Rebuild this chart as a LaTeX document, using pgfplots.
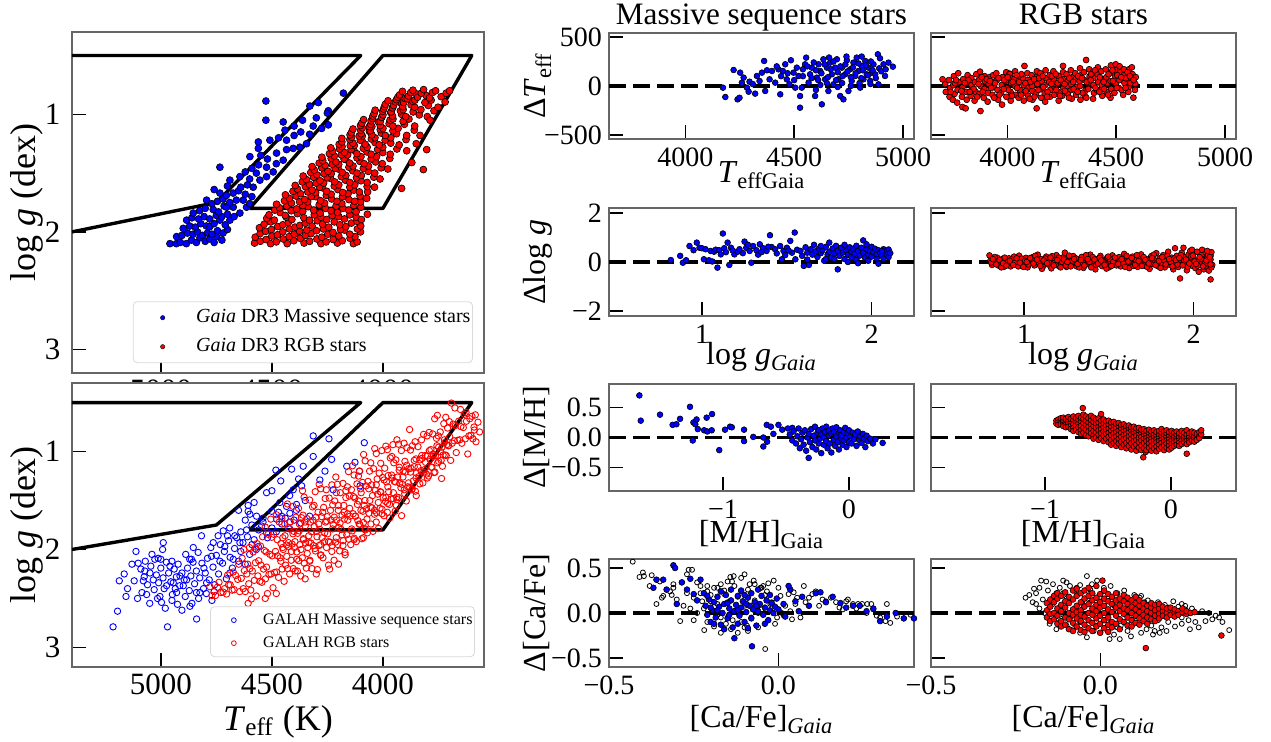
\documentclass[border=0pt]{standalone}
\usepackage{fontspec}
\setmainfont{Liberation Serif}
\usepackage{pgfplots}
\pgfplotsset{compat=1.18}
\definecolor{frm}{gray}{0.4}
\pgfplotsset{
  base/.style={scale only axis, anchor=north west,
    axis background/.style={fill=white},
    axis line style={draw=frm, line width=0.6pt},
    tick align=inside, tick pos=left, major tick length=7pt,
    every tick/.style={black, line width=0.7pt},
    scaled ticks=false, clip=true},
  lpanel/.style={base, width=206pt, x dir=reverse, y dir=reverse,
    xmin=3545, xmax=5400, ymin=0.3, ymax=3.2,
    xtick={4000,4500,5000}, xticklabels={4000,4500,5000},
    ytick={1,2,3}, yticklabels={1,2,3},
    tick label style={font=\fontsize{15.5}{18}\selectfont},
    yticklabel style={xshift=-2.3pt},
    ylabel={log \textit{g} (dex)},
    ylabel style={font=\fontsize{18}{21}\selectfont, at={(axis description cs:-0.109,0.5)}, anchor=center}},
  rpanel/.style={base, width=152.5pt,
    tick label style={font=\fontsize{14}{16}\selectfont},
    xticklabel style={yshift=-1pt},
    xlabel style={font=\fontsize{16}{19}\selectfont, at={(axis description cs:0.5,0)}, anchor=base},
    ylabel style={font=\fontsize{16}{19}\selectfont, at={(axis description cs:-0.2066,0.5)}, anchor=base},
    title style={font=\fontsize{15.6}{18}\selectfont, at={(axis description cs:0.5,1)}, anchor=base, yshift=-2pt}},
  bf/.style={only marks, mark=*, mark size=#1, mark options={fill=blue, draw=black, line width=0.3pt}, forget plot},
  rf/.style={only marks, mark=*, mark size=#1, mark options={fill=red, draw=black, line width=0.3pt}, forget plot},
  bo/.style={only marks, mark=o, mark size=1.6pt, mark options={draw=blue, line width=0.45pt}, forget plot},
  ro/.style={only marks, mark=o, mark size=1.6pt, mark options={draw=red, line width=0.45pt}, forget plot},
  ko/.style={only marks, mark=o, mark size=1.25pt, mark options={draw=black, line width=0.4pt}, forget plot},
  zl/.style={black, line width=1.6pt, dash pattern=on 8.5pt off 3.5pt, forget plot},
  bx/.style={black, line width=1.7pt, line join=round, forget plot},
}
\begin{document}
\begin{tikzpicture}
\useasboundingbox (0pt,0pt) rectangle (635.5pt,-371pt);
%================ LEFT TOP (Gaia) ================
\begin{axis}[lpanel, at={(36pt,-16pt)}, height=170.5pt,
  legend style={at={(0.973,0.029)}, anchor=south east, draw=gray!30, rounded corners=2pt,
   font=\fontsize{10}{12}\selectfont, inner xsep=0pt, inner ysep=2.5pt, row sep=3.5pt,
   cells={anchor=west}, nodes={inner sep=1pt, text height=7pt, text depth=2pt}},
  legend image code/.code={\path (0pt,0pt) (30pt,0pt); \draw[#1] plot coordinates {(14.5pt,0pt)};}]
\addplot[bf=1.75pt] coordinates {(4959,2.10)(4930,2.10)(4912,2.09)(4885,2.10)(4862,2.07)(4840,2.09)(4824,2.05)(4800,2.08)(4780,2.06)(4760,2.09)(4749,2.04)(4725,2.07)(4929,2.04)(4905,2.03)(4880,2.01)(4855,2.02)(4835,2.00)(4812,2.03)(4790,2.01)(4770,2.02)(4745,1.99)(4720,2.01)(4700,1.98)(4899,1.97)(4870,1.95)(4845,1.96)(4820,1.93)(4795,1.95)(4779,1.955)(4760,1.93)(4734,1.90)(4710,1.94)(4689,1.90)(4884,1.90)(4860,1.88)(4830,1.89)(4805,1.87)(4780,1.89)(4750,1.86)(4725,1.87)(4700,1.85)(4670,1.87)(4854,1.84)(4825,1.82)(4800,1.80)(4764,1.81)(4740,1.83)(4715,1.78)(4704,1.79)(4674,1.79)(4644,1.84)(4614,1.79)(4794,1.73)(4770,1.76)(4745,1.74)(4720,1.72)(4690,1.75)(4660,1.73)(4629,1.73)(4600,1.76)(4734,1.67)(4705,1.69)(4674,1.67)(4650,1.65)(4620,1.68)(4590,1.70)(4760,1.64)(4584,1.62)(4610,1.60)(4640,1.62)(4700,1.61)(4689,1.56)(4644,1.53)(4554,1.56)(4524,1.53)(4600,1.55)(4570,1.50)(4620,1.49)(4494,1.49)(4734,1.45)(4524,1.45)(4560,1.43)(4590,1.46)(4479,1.33)(4449,1.39)(4599,1.36)(4520,1.38)(4480,1.42)(4550,1.35)(4434,1.30)(4404,1.29)(4374,1.28)(4561,1.29)(4561,1.235)(4509,1.22)(4434,1.22)(4344,1.25)(4470,1.20)(4400,1.18)(4441,1.135)(4370,1.15)(4330,1.17)(4314,1.10)(4276,1.12)(4246,1.09)(4449,1.065)(4362,1.05)(4527,1.05)(4300,1.03)(4246,0.97)(4329,0.93)(4291,0.90)(4527,0.887)(4178,0.82)(4250,0.99)(4400,1.10)};
\addplot[rf=1.75pt] coordinates {
(4578,2.095)(4552,2.08)(4506,2.10)(4480,2.085)(4431,2.10)(4401,2.075)(4355,2.095)(4330,2.08)(4279,2.10)(4256,2.085)(4205,2.095)(4183,2.075)(4133,2.10)(4116,2.085)
(4575,2.045)(4526,2.065)(4500,2.035)(4449,2.06)(4422,2.04)(4372,2.055)(4349,2.03)(4297,2.06)(4275,2.045)(4224,2.065)(4199,2.035)(4148,2.055)(4126,2.04)
(4553,2.015)(4528,1.995)(4475,2.025)(4451,2.00)(4399,2.02)(4375,1.995)(4324,2.015)(4299,1.99)(4248,2.02)(4225,2.005)(4173,1.985)(4149,2.02)(4101,2.00)
(4556,1.965)(4502,1.98)(4474,1.955)(4421,1.975)(4396,1.96)(4343,1.985)(4319,1.95)(4268,1.975)(4244,1.96)(4191,1.98)(4167,1.955)(4115,1.975)(4100,1.95)
(4535,1.935)(4505,1.915)(4451,1.94)(4426,1.92)(4374,1.945)(4350,1.925)(4296,1.905)(4272,1.935)(4219,1.915)(4194,1.94)(4142,1.925)(4117,1.91)
(4523,1.885)(4489,1.90)(4435,1.875)(4410,1.895)(4356,1.88)(4331,1.90)(4279,1.875)(4253,1.895)(4199,1.87)(4173,1.89)(4120,1.875)(4097,1.895)
(4513,1.855)(4463,1.835)(4440,1.86)(4385,1.845)(4361,1.825)(4309,1.855)(4283,1.84)(4229,1.86)(4204,1.835)(4149,1.855)(4121,1.83)(4070,1.85)
(4487,1.815)(4465,1.795)(4413,1.82)(4389,1.805)(4337,1.785)(4312,1.815)(4259,1.80)(4234,1.82)(4180,1.80)(4154,1.815)(4099,1.79)
(4479,1.765)(4433,1.78)(4412,1.755)(4361,1.775)(4339,1.745)(4287,1.77)(4263,1.755)(4211,1.78)(4185,1.76)(4131,1.775)(4101,1.745)
(4443,1.735)(4421,1.715)(4375,1.745)(4353,1.725)(4303,1.70)(4281,1.735)(4231,1.72)(4207,1.74)(4153,1.725)(4127,1.74)(4073,1.715)
(4439,1.685)(4391,1.695)(4371,1.675)(4323,1.70)(4303,1.665)(4255,1.69)(4233,1.68)(4182,1.70)(4157,1.675)(4103,1.695)(4069,1.66)
(4405,1.655)(4385,1.635)(4338,1.66)(4319,1.645)(4272,1.625)(4253,1.655)(4203,1.64)(4181,1.665)(4131,1.645)(4106,1.66)(4038,1.62)
(4395,1.605)(4349,1.615)(4331,1.595)(4285,1.62)(4267,1.585)(4219,1.61)(4199,1.60)(4149,1.62)(4127,1.60)(4071,1.615)(3916,1.63)
(4363,1.575)(4345,1.555)(4301,1.585)(4283,1.565)(4236,1.545)(4217,1.575)(4169,1.56)(4149,1.58)(4099,1.565)(4071,1.58)(4013,1.55)
(4359,1.525)(4313,1.535)(4297,1.515)(4251,1.54)(4233,1.505)(4187,1.53)(4167,1.52)(4119,1.54)(4097,1.52)(4041,1.535)
(4325,1.495)(4309,1.475)(4265,1.505)(4247,1.485)(4201,1.465)(4183,1.495)(4136,1.48)(4117,1.50)(4066,1.485)(4037,1.50)(3978,1.465)(3818,1.47)
(4319,1.445)(4275,1.455)(4260,1.435)(4215,1.46)(4199,1.425)(4153,1.45)(4135,1.44)(4088,1.46)(4065,1.44)(4008,1.455)
(4287,1.415)(4271,1.395)(4228,1.425)(4212,1.405)(4168,1.385)(4150,1.415)(4104,1.40)(4085,1.42)(4033,1.405)(4003,1.42)(3870,1.41)
(4275,1.365)(4233,1.375)(4219,1.355)(4175,1.38)(4159,1.345)(4117,1.37)(4099,1.36)(4053,1.38)(4029,1.36)(3969,1.375)
(4241,1.335)(4227,1.315)(4187,1.345)(4173,1.325)(4131,1.305)(4117,1.335)(4072,1.32)(4053,1.34)(4001,1.325)(3967,1.34)(3893,1.31)(3803,1.30)
(4235,1.285)(4195,1.295)(4184,1.275)(4143,1.30)(4129,1.265)(4088,1.29)(4071,1.28)(4024,1.30)(4001,1.28)(3937,1.295)
(4197,1.255)(4185,1.235)(4147,1.265)(4135,1.245)(4094,1.225)(4080,1.255)(4036,1.24)(4017,1.26)(3965,1.245)(3927,1.26)(3850,1.25)
(4185,1.205)(4149,1.215)(4141,1.195)(4102,1.22)(4093,1.185)(4052,1.21)(4036,1.20)(3990,1.22)(3965,1.20)(3896,1.215)
(4148,1.175)(4142,1.155)(4107,1.185)(4098,1.165)(4061,1.145)(4050,1.175)(4007,1.16)(3989,1.18)(3939,1.165)(3893,1.18)(3833,1.18)
(4135,1.125)(4100,1.135)(4093,1.115)(4057,1.14)(4050,1.105)(4012,1.13)(4000,1.12)(3955,1.14)(3932,1.12)(3859,1.135)
(4101,1.095)(4095,1.075)(4061,1.105)(4055,1.085)(4020,1.065)(4012,1.095)(3972,1.08)(3955,1.10)(3903,1.085)(3857,1.10)
(4087,1.045)(4053,1.055)(4047,1.035)(4012,1.06)(4005,1.025)(3968,1.05)(3955,1.04)(3909,1.06)(3883,1.04)(3800,1.02)(3788,1.05)
(4045,1.015)(4040,0.995)(4006,1.025)(4000,1.005)(3965,0.985)(3957,1.015)(3916,1.00)(3897,1.02)(3836,1.005)
(4035,0.965)(4001,0.975)(3997,0.955)(3963,0.98)(3957,0.945)(3921,0.97)(3909,0.96)(3864,0.98)(3829,0.96)(3770,0.97)
(3993,0.935)(3989,0.915)(3957,0.945)(3952,0.925)(3918,0.905)(3911,0.935)(3873,0.92)(3857,0.94)(3796,0.925)(3752,0.94)
(3977,0.885)(3944,0.895)(3939,0.875)(3906,0.90)(3900,0.865)(3865,0.89)(3856,0.88)(3811,0.90)(3783,0.88)(3720,0.895)
(3933,0.855)(3925,0.835)(3891,0.865)(3885,0.845)(3851,0.825)(3844,0.855)(3806,0.84)(3790,0.86)(3738,0.85)
(3912,0.805)(3875,0.815)(3865,0.795)(3827,0.82)(3817,0.79)(3777,0.815)(3763,0.80)(3715,0.82)(3700,0.80)};
\addplot[bx] coordinates {(5400,2.0) (4750,1.75) (4100,0.5) (5400,0.5)};
\addplot[bx] coordinates {(4600,1.8) (4000,1.8) (3600,0.5) (4000,0.5) (4600,1.8)};
\addlegendimage{only marks, mark=*, mark size=1.1pt, mark options={fill=blue, draw=black, line width=0.2pt}}
\addlegendentry{\textit{Gaia} DR3 Massive sequence stars}
\addlegendimage{only marks, mark=*, mark size=1.1pt, mark options={fill=red, draw=black, line width=0.2pt}}
\addlegendentry{\textit{Gaia} DR3 RGB stars}
\end{axis}
%================ LEFT BOTTOM (GALAH) ================
\begin{axis}[lpanel, at={(36pt,-191.5pt)}, height=142pt,
  xlabel={\textit{T}\textsubscript{eff} (K)},
  xlabel style={font=\fontsize{18}{21}\selectfont, at={(axis description cs:0.5,0)}, anchor=base, yshift=-31.5pt},
  legend style={at={(0.978,0.035)}, anchor=south east, draw=gray!30, rounded corners=2pt,
   font=\fontsize{8}{10}\selectfont, inner xsep=0pt, inner ysep=2.15pt, row sep=2.3pt,
   cells={anchor=west}, nodes={inner sep=1pt, text height=5.6pt, text depth=1.6pt}},
  legend image code/.code={\path (0pt,0pt) (25pt,0pt); \draw[#1] plot coordinates {(11.5pt,0pt)};}]
\addplot[bo] coordinates {(5215,2.79)(5195,2.63)(5187,2.32)(5157,2.48)(5112,2.02)(5102,2.14)(5079,2.32)(5072,2.22)(5064,2.46)(5049,2.24)(5034,2.31)(5027,2.10)(5012,2.09)(5004,2.48)(4997,2.54)(4992,2.00)(4989,1.93)(4970,2.79)(4974,2.37)(4959,2.17)(4944,2.34)(4929,2.44)(4914,2.27)(4899,2.37)(4884,2.31)(4869,2.58)(4862,2.10)(4854,1.98)(4839,2.71)(4824,2.44)(4817,1.86)(4806,2.19)(4794,2.34)(4772,2.07)(4764,1.93)(4742,1.86)(4734,2.12)(4719,1.81)(4712,1.97)(4689,2.24)(4674,2.10)(4667,1.86)(4644,1.93)(4614,1.80)(4607,1.55)(4607,1.61)(4599,1.64)(4569,1.66)(4561,1.97)(4546,1.76)(4524,1.42)(4524,1.83)(4501,1.61)(4482,1.19)(4479,1.69)(4464,1.52)(4456,1.66)(4434,1.56)(4419,1.63)(4411,1.18)(4404,1.39)(4389,1.54)(4366,1.35)(4359,1.15)(4314,0.84)(4314,1.05)(4284,1.29)(4261,1.20)(4243,0.87)(4231,1.08)(4224,1.39)(4163,1.15)(4126,1.11)(4106,1.20)(4084,0.91)(4103,1.35)
(5090,2.20)(5075,2.28)(5060,2.36)(5045,2.17)(5030,2.41)(5020,2.26)(5010,2.34)(5000,2.19)(4990,2.29)(4985,2.40)(4975,2.13)(4965,2.24)(4955,2.33)(4948,2.46)(4940,2.20)(4930,2.28)(4922,2.15)(4915,2.37)(4905,2.24)(4895,2.31)(4888,2.05)(4880,2.19)(4872,2.42)(4865,2.27)(4855,2.13)(4848,2.35)(4840,2.22)(4832,2.03)(4825,2.29)(4815,2.14)(4808,2.40)(4800,2.24)(4790,2.09)(4782,2.31)(4775,1.98)(4765,2.18)(4758,2.36)(4750,2.06)(4740,2.25)(4732,1.95)(4722,2.14)(4714,2.02)(4705,2.30)(4695,1.91)(4688,2.08)(4678,2.19)(4668,1.99)(4658,1.88)(4650,2.12)(4640,2.02)(4630,1.93)(4620,2.15)(4610,1.87)(4600,2.05)(4590,1.95)(4580,1.90)(4570,2.00)
(5150,2.40)(5120,2.32)(5105,2.50)(5085,2.44)(5050,2.55)(5015,2.50)(4980,2.60)(4950,2.52)(4925,2.56)(4890,2.48)(4860,2.55)(4830,2.50)(4795,2.45)(4770,2.52)(4905,2.62)(4950,2.12)(5040,2.05)(5070,2.12)(5130,2.15)(5165,2.25)(5000,2.10)(4935,2.40)(4870,2.10)(4840,2.44)(4760,2.43)
(4560,1.80)(4540,1.72)(4520,1.88)(4500,1.78)(4480,1.82)(4470,1.62)(4455,1.74)(4440,1.68)(4420,1.79)(4400,1.70)(4390,1.60)(4370,1.73)(4350,1.50)(4330,1.66)(4540,1.68)(4590,1.75)(4640,1.82)(4620,1.70)(4690,1.78)(4700,1.86)(4580,1.52)(4650,1.60)(4500,1.40)(4420,1.45)(4460,1.30)(4380,1.28)};
\addplot[ro] coordinates {(4770,2.47)(4779,2.38)(4745,2.385)(4754,2.47)(4738,2.335)(4720,2.435)(4729,2.44)(4713,2.40)(4695,2.36)(4704,2.455)(4688,2.36)(4699,2.26)(4670,2.41)(4679,2.415)(4663,2.265)(4674,2.23)(4645,2.43)(4654,2.305)(4638,2.295)(4649,2.15)(4634,2.09)(4620,2.43)(4629,2.40)(4613,2.25)(4624,2.215)(4609,2.15)(4626,2.00)(4595,2.415)(4604,2.35)(4588,2.22)(4599,2.195)(4584,2.025)(4601,1.98)(4592,2.505)(4570,2.475)(4579,2.315)(4563,2.27)(4574,2.135)(4559,2.115)(4576,1.99)(4567,1.94)(4545,2.335)(4554,2.325)(4538,2.20)(4549,2.16)(4534,2.01)(4551,1.965)(4542,1.87)(4520,2.45)(4529,2.30)(4513,2.255)(4524,2.18)(4509,2.05)(4526,2.025)(4517,1.845)(4530,1.77)(4495,2.39)(4504,2.25)(4488,2.235)(4499,2.065)(4484,2.02)(4501,1.875)(4492,1.845)(4505,1.69)(4470,2.285)(4479,2.23)(4463,2.085)(4474,2.065)(4459,1.94)(4476,1.90)(4467,1.72)(4480,1.645)(4445,2.325)(4454,2.20)(4438,2.16)(4449,2.00)(4434,1.955)(4451,1.88)(4442,1.74)(4455,1.685)(4420,2.25)(4429,2.195)(4413,2.11)(4424,1.97)(4409,1.945)(4426,1.775)(4417,1.72)(4430,1.535)(4395,2.22)(4404,2.195)(4388,2.025)(4399,1.98)(4384,1.835)(4401,1.815)(4392,1.67)(4405,1.56)(4370,2.27)(4379,2.115)(4363,2.085)(4374,1.95)(4359,1.90)(4376,1.74)(4367,1.675)(4380,1.58)(4362,1.40)(4345,2.19)(4354,2.14)(4338,1.98)(4349,1.935)(4334,1.86)(4351,1.72)(4342,1.685)(4355,1.465)(4320,2.195)(4329,2.11)(4313,1.96)(4324,1.935)(4309,1.765)(4326,1.72)(4317,1.565)(4330,1.495)(4295,2.205)(4304,2.015)(4288,1.96)(4299,1.815)(4284,1.795)(4301,1.67)(4292,1.62)(4305,1.41)(4287,1.335)(4270,2.085)(4279,2.055)(4263,1.92)(4274,1.88)(4259,1.72)(4276,1.665)(4267,1.57)(4280,1.38)(4245,2.16)(4254,1.98)(4238,1.925)(4249,1.84)(4234,1.70)(4251,1.665)(4242,1.475)(4255,1.39)(4220,2.11)(4229,1.96)(4213,1.925)(4224,1.745)(4209,1.70)(4226,1.545)(4217,1.505)(4230,1.34)(4212,1.26)(4195,2.015)(4204,1.95)(4188,1.795)(4199,1.775)(4184,1.65)(4201,1.60)(4192,1.42)(4205,1.335)(4170,2.055)(4179,1.91)(4163,1.85)(4174,1.69)(4159,1.635)(4176,1.55)(4167,1.40)(4180,1.325)(4145,1.95)(4154,1.895)(4138,1.81)(4149,1.66)(4134,1.635)(4151,1.455)(4142,1.39)(4155,1.205)(4137,1.145)(4120,1.92)(4129,1.885)(4113,1.705)(4124,1.66)(4109,1.505)(4126,1.475)(4117,1.33)(4130,1.24)(4095,1.89)(4104,1.745)(4088,1.725)(4099,1.60)(4084,1.55)(4101,1.38)(4092,1.315)(4105,1.20)(4087,1.03)(4070,1.83)(4079,1.79)(4063,1.63)(4074,1.585)(4059,1.50)(4076,1.35)(4067,1.305)(4080,1.095)(4045,1.815)(4054,1.74)(4038,1.60)(4049,1.575)(4034,1.395)(4051,1.34)(4042,1.175)(4055,1.115)(4037,0.97)(4020,1.785)(4029,1.625)(4013,1.58)(4024,1.435)(4009,1.415)(4026,1.28)(4017,1.22)(4030,1.02)(3995,1.655)(4004,1.635)(3988,1.51)(3999,1.47)(3984,1.31)(4001,1.265)(3992,1.17)(4005,0.99)(3987,0.945)(3970,1.68)(3979,1.53)(3963,1.485)(3974,1.41)(3959,1.27)(3976,1.245)(3967,1.065)(3980,0.98)(3945,1.61)(3954,1.48)(3938,1.465)(3949,1.305)(3934,1.26)(3951,1.115)(3942,1.085)(3955,0.93)(3937,0.88)(3916,1.655)(3929,1.47)(3913,1.335)(3924,1.325)(3909,1.20)(3926,1.16)(3917,0.99)(3930,0.925)(3895,1.505)(3904,1.39)(3888,1.36)(3899,1.21)(3884,1.175)(3901,1.10)(3892,0.96)(3905,0.915)(3870,1.39)(3879,1.365)(3863,1.30)(3874,1.17)(3859,1.155)(3876,0.985)(3867,0.94)(3880,0.775)(3850,1.45)(3854,1.405)(3838,1.255)(3849,1.22)(3834,1.085)(3851,1.075)(3842,0.95)(3855,0.90)(3820,1.32)(3829,1.195)(3813,1.185)(3824,1.07)(3809,1.04)(3826,0.88)(3817,0.825)(3795,1.25)(3804,1.23)(3788,1.08)(3799,1.045)(3784,0.98)(3801,0.84)(3792,0.805)(3770,1.215)(3779,1.16)(3763,1.04)(3774,1.025)(3759,0.865)(3776,0.82)(3767,0.665)(3736,1.275)(3754,1.115)(3738,1.09)(3749,0.955)(3734,0.955)(3751,0.84)(3742,0.80)(3755,0.63)(3720,1.035)(3729,1.035)(3713,0.93)(3724,0.91)(3709,0.76)(3726,0.715)(3717,0.65)(3695,1.09)(3704,0.94)(3688,0.915)(3699,0.85)(3684,0.72)(3701,0.695)(3692,0.505)(3670,1.01)(3679,0.89)(3663,0.885)(3674,0.735)(3659,0.69)(3676,0.555)(3645,0.915)(3654,0.88)(3638,0.755)(3649,0.745)(3634,0.62)(3651,0.57)(3618,1.025)(3629,0.87)(3613,0.84)(3624,0.69)(3609,0.665)(3626,0.60)(3595,0.87)(3604,0.835)(3588,0.78)(3599,0.64)(3584,0.625)(3581,0.90)(3565,0.80)(3572,0.70)(3590,0.75)(4607,2.55)(4171,2.03)(4088,1.88)(4240,2.20)(4530,2.50)(4480,2.45)(4350,2.30)(4300,2.25)(4200,2.15)
(4460,2.12)(4452,1.98)(4441,1.86)(4433,2.07)(4425,1.93)(4412,2.02)(4405,1.84)(4396,1.92)(4388,2.10)(4377,1.81)(4369,2.00)(4358,1.89)(4350,1.76)(4341,2.04)(4333,1.93)(4322,1.82)(4315,1.70)(4306,1.99)(4297,1.87)(4289,1.74)(4280,1.95)(4271,1.62)(4262,1.83)(4253,1.71)(4245,1.92)(4236,1.60)(4227,1.79)(4219,1.67)(4210,1.88)(4201,1.55)(4193,1.73)(4184,1.85)(4175,1.62)(4167,1.47)(4158,1.70)(4150,1.58)(4141,1.79)(4132,1.46)(4124,1.66)(4115,1.54)(4107,1.74)(4098,1.42)(4090,1.61)(4081,1.50)(4072,1.69)(4064,1.38)(4055,1.57)(4047,1.45)(4038,1.64)(4030,1.34)(4021,1.52)(4012,1.41)(4004,1.59)(3995,1.29)(3987,1.47)(3978,1.36)(3970,1.54)(3961,1.24)(3953,1.42)(3944,1.31)(3936,1.49)(3927,1.19)(3919,1.37)(3910,1.26)(3902,1.43)(3893,1.14)(3885,1.32)(3876,1.21)(3868,1.38)(3859,1.09)(3851,1.27)(3842,1.16)(3834,1.33)(3825,1.04)(3817,1.21)(3808,1.11)(3800,1.27)(3791,0.99)(3783,1.16)(3774,1.05)(3766,1.21)(3757,0.94)(3749,1.10)(3740,1.00)(3732,1.15)(3723,0.88)(3715,1.04)(3706,0.94)(4385,2.22)(4330,2.12)(4280,2.06)(4230,2.02)(4180,1.96)(4130,1.90)(4080,1.80)(4030,1.72)(3980,1.62)(3940,1.55)(4420,1.72)(4360,1.65)(4310,1.55)(4260,1.48)(4210,1.42)(4160,1.36)(4110,1.25)(4060,1.20)(4010,1.12)(3960,1.05)};
\addplot[bx] coordinates {(5400,2.0) (4750,1.75) (4100,0.5) (5400,0.5)};
\addplot[bx] coordinates {(4600,1.8) (4000,1.8) (3600,0.5) (4000,0.5) (4600,1.8)};
\addlegendimage{only marks, mark=o, mark size=1.2pt, mark options={draw=blue, line width=0.4pt}}
\addlegendentry{GALAH Massive sequence stars}
\addlegendimage{only marks, mark=o, mark size=1.2pt, mark options={draw=red, line width=0.4pt}}
\addlegendentry{GALAH RGB stars}
\end{axis}
%================ ROW 1 ================
\begin{axis}[rpanel, at={(304.5pt,-16.5pt)}, height=53pt,
  xmin=3650, xmax=5050, ymin=-540, ymax=540,
  xtick={4000,4500,5000}, xticklabels={4000,4500,5000},
  ytick={-500,0,500}, yticklabels={−500,0,500},
  xlabel={\textit{T}\textsubscript{effGaia}}, xlabel style={yshift=-22pt},
  ylabel={Δ\textit{T}\textsubscript{eff}}, title={Massive sequence stars}]
\addplot[bf=1.45pt] coordinates {(4173,-17)(4184,-112)(4222,163)(4240,-136)(4249,-120)(4252,136)(4260,34)(4268,85)(4283,-17)(4291,-58)(4295,44)(4310,20)(4321,-78)(4329,102)(4341,51)(4352,136)(4362,255)(4367,-51)(4375,160)(4387,68)(4398,153)(4413,34)(4428,170)(4436,-85)(4448,153)(4459,221)(4466,68)(4478,17)(4485,262)(4497,136)(4505,-17)(4512,187)(4520,102)(4527,-102)(4527,-221)(4535,-17)(4540,170)(4550,221)(4555,289)(4566,34)(4573,119)(4581,187)(4596,-102)(4604,85)(4612,221)(4619,153)(4627,-187)(4634,272)(4642,68)(4650,187)(4657,-51)(4665,238)(4673,119)(4680,17)(4688,187)(4696,272)(4703,68)(4711,-102)(4719,187)(4726,-136)(4734,119)(4742,262)(4749,-51)(4757,170)(4764,51)(4772,238)(4780,102)(4787,289)(4795,153)(4803,-17)(4810,204)(4818,68)(4826,255)(4833,119)(4841,187)(4849,51)(4856,136)(4864,221)(4872,119)(4884,323)(4887,17)(4894,282)(4910,221)(4917,102)(4933,238)(4953,197)(4560,200)(4580,80)(4590,240)(4600,160)(4610,60)(4625,130)(4640,220)(4655,90)(4668,170)(4680,250)(4692,60)(4700,140)(4712,200)(4722,100)(4735,220)(4745,150)(4760,90)(4770,190)(4782,130)(4795,230)(4808,80)(4815,160)(4830,210)(4840,110)(4852,250)(4860,160)(4875,80)(4890,180)(4620,10)(4700,-10)(4760,0)(4650,30)(4540,100)(4500,60)(4470,130)(4440,100)(4420,200)(4600,-40)(4720,30)(4800,30)(4850,20)(4900,150)(4920,170)(4810,300)(4740,300)(4660,290)};
\addplot[zl] coordinates {(3650,0) (5050,0)};
\end{axis}
\begin{axis}[rpanel, at={(465.5pt,-16.5pt)}, height=53pt,
  xmin=3650, xmax=5050, ymin=-540, ymax=540,
  xtick={4000,4500,5000}, xticklabels={4000,4500,5000},
  ytick={-500,0,500}, yticklabels={},
  xlabel={\textit{T}\textsubscript{effGaia}}, xlabel style={yshift=-22pt},
  title={RGB stars}]
\addplot[rf=1.5pt] coordinates {(3715,20)(3718,-60)(3735,-110)(3738,-20)(3732,60)(3755,100)(3752,10)(3758,-80)(3750,-140)(3775,130)(3778,40)(3772,-40)(3770,-170)(3795,-10)(3798,70)(3792,-110)(3794,-214)(3815,30)(3812,-60)(3818,110)(3809,-228)(3814,-140)(3835,80)(3838,-20)(3832,-100)(3836,10)(3855,-60)(3852,40)(3858,120)(3850,-150)(3875,146)(3878,0)(3872,-80)(3877,-255)(3870,60)(3895,-30)(3898,50)(3892,-120)(3896,100)(3915,20)(3912,-70)(3918,90)(3910,-160)(3935,110)(3938,-10)(3932,-90)(3936,40)(3955,-40)(3952,60)(3958,-140)(3950,130)(3975,10)(3978,90)(3972,-70)(3976,-190)(3995,140)(3998,-20)(3992,50)(3996,-110)(4010,126)(4015,-60)(4018,30)(4012,120)(4016,-150)(4014,80)(4035,0)(4038,-90)(4032,70)(4036,150)(4055,40)(4058,-40)(4052,-120)(4056,100)(4079,204)(4075,10)(4078,-70)(4072,80)(4076,-150)(4095,60)(4098,-20)(4092,130)(4096,-100)(4115,-50)(4118,30)(4112,110)(4116,-140)(4114,0)(4135,90)(4135,-228)(4138,20)(4132,-80)(4136,150)(4155,-30)(4158,50)(4152,130)(4156,-120)(4175,10)(4178,80)(4172,-70)(4176,160)(4174,-160)(4195,110)(4198,-40)(4192,40)(4196,-110)(4215,60)(4218,-10)(4212,150)(4216,-90)(4214,20)(4235,-60)(4238,100)(4232,30)(4236,-150)(4256,204)(4255,70)(4258,-20)(4252,-100)(4256,140)(4275,40)(4278,-80)(4272,120)(4276,0)(4295,-40)(4298,90)(4292,160)(4296,-130)(4294,20)(4315,70)(4318,-10)(4312,130)(4316,-90)(4335,0)(4338,110)(4332,50)(4336,-140)(4334,180)(4362,265)(4355,60)(4358,-50)(4352,140)(4356,-100)(4375,30)(4378,100)(4372,-30)(4376,170)(4395,80)(4398,-70)(4392,140)(4396,10)(4394,-130)(4415,120)(4418,40)(4412,-40)(4416,190)(4435,-20)(4438,70)(4432,150)(4436,-100)(4434,10)(4455,90)(4458,30)(4452,170)(4456,-60)(4475,50)(4478,-30)(4472,130)(4476,210)(4474,-120)(4498,221)(4495,100)(4498,20)(4492,-70)(4496,160)(4515,60)(4518,140)(4512,-20)(4516,200)(4535,110)(4538,30)(4532,-90)(4536,170)(4559,170)(4555,70)(4558,-10)(4552,140)(4556,-60)(4579,-119)(4575,120)(4578,40)(4572,190)(4590,90)(4588,20)(4586,-40)(3703,68)
(3760,30)(3790,-50)(3822,60)(3846,-30)(3868,20)(3887,-60)(3905,70)(3926,-20)(3944,30)(3964,-90)(3986,60)(4005,-40)(4025,40)(4045,-20)(4065,120)(4085,-50)(4105,40)(4125,-110)(4145,80)(4165,-10)(4185,-60)(4205,100)(4225,-40)(4245,60)(4265,-50)(4285,80)(4305,-30)(4325,100)(4345,-70)(4365,40)(4385,120)(4405,-20)(4425,90)(4445,-30)(4465,120)(4485,50)(4505,110)(4525,-40)(4545,80)(4565,30)(3740,-60)(3765,60)(3805,30)(3828,-60)(3862,-110)(3883,90)(3921,50)(3940,-120)(3960,80)(3984,-30)(4002,90)(4022,-100)(4043,110)(4063,-90)(4083,30)(4103,-130)(4123,70)(4143,-40)(4163,100)(4183,-110)(4203,20)(4223,120)(4243,-100)(4263,20)(4283,-120)(4303,40)(4323,-60)(4343,80)(4363,-120)(4383,60)(4403,160)(4423,-60)(4443,40)(4463,-90)(4483,160)(4503,-20)(4523,90)(4543,-20)(4563,100)(4580,60)};
\addplot[zl] coordinates {(3650,0) (5050,0)};
\end{axis}
%================ ROW 2 ================
\begin{axis}[rpanel, at={(304.5pt,-104pt)}, height=54pt,
  xmin=0.45, xmax=2.25, ymin=-2.2, ymax=2.2,
  xtick={1,2}, xticklabels={1,2}, ytick={-2,0,2}, yticklabels={−2,0,2},
  xlabel={log \textit{g}\textsubscript{\textit{Gaia}}}, xlabel style={yshift=-24.5pt},
  ylabel={Δlog \textit{g}}]
\addplot[bf=1.45pt] coordinates {(0.815,0.08)(0.87,0.25)(0.886,-0.03)(0.905,0.07)(0.925,0.65)(0.949,0.48)(0.968,0.79)(0.984,0.58)(0.998,0.56)(1.01,0.11)(1.02,0.52)(1.04,0.07)(1.05,0.45)(1.07,0.42)(1.08,0.50)(1.09,-0.23)(1.10,0.48)(1.11,0.31)(1.122,1.16)(1.13,0.56)(1.15,0.79)(1.16,-0.12)(1.17,0.58)(1.19,0.31)(1.21,0.42)(1.22,0.52)(1.25,0.83)(1.26,0.58)(1.28,0.45)(1.29,-0.03)(1.30,0.65)(1.32,0.48)(1.34,0.72)(1.36,0.56)(1.38,0.45)(1.40,1.09)(1.41,0.61)(1.43,0.52)(1.46,0.65)(1.47,0.11)(1.48,0.45)(1.50,0.58)(1.52,0.86)(1.53,0.38)(1.546,1.20)(1.55,0.11)(1.56,0.50)(1.06,0.02)(1.14,0.40)(1.18,0.47)(1.24,0.36)(1.27,0.70)(1.33,0.30)(1.35,0.40)(1.39,0.62)(1.44,0.35)(1.49,0.28)(1.51,0.47)(1.58,0.45)(1.59,0.25)(1.60,-0.16)(1.61,0.60)(1.62,0.38)(1.63,-0.12)(1.64,0.52)(1.65,0.30)(1.66,0.70)(1.67,0.44)(1.68,0.20)(1.69,0.55)(1.70,0.36)(1.71,0.48)(1.72,0.05)(1.73,0.62)(1.74,0.30)(1.75,0.79)(1.75,0.42)(1.76,0.18)(1.77,0.55)(1.78,0.35)(1.79,0.66)(1.80,-0.30)(1.80,0.46)(1.81,0.25)(1.82,0.58)(1.83,0.38)(1.84,0.12)(1.84,0.70)(1.85,0.47)(1.86,0.30)(1.87,0.60)(1.88,0.20)(1.88,0.42)(1.89,0.54)(1.90,0.33)(1.91,0.66)(1.91,0.10)(1.92,0.45)(1.93,0.26)(1.94,0.58)(1.95,0.88)(1.95,0.38)(1.96,0.18)(1.97,0.52)(1.97,0.72)(1.98,0.30)(1.99,0.44)(2.00,0.62)(2.00,0.22)(2.01,0.40)(2.02,0.54)(2.03,0.15)(2.03,0.32)(2.04,-0.07)(2.04,0.48)(2.05,0.38)(2.06,0.26)(2.07,0.52)(2.07,0.14)(2.08,0.42)(2.09,0.30)(2.10,0.51)(2.10,0.20)(2.11,0.36)(1.86,0.00)(1.92,-0.05)(1.98,0.05)(1.73,0.12)(1.62,0.10)(1.70,0.65)(1.78,0.12)(2.06,0.45)};
\addplot[zl] coordinates {(0.45,0) (2.25,0)};
\end{axis}
\begin{axis}[rpanel, at={(465.5pt,-104pt)}, height=54pt,
  xmin=0.45, xmax=2.25, ymin=-2.2, ymax=2.2,
  xtick={1,2}, xticklabels={1,2}, ytick={-2,0,2}, yticklabels={},
  xlabel={log \textit{g}\textsubscript{\textit{Gaia}}}, xlabel style={yshift=-24.5pt}]
\addplot[rf=1.45pt] coordinates {(0.795,0.27)(0.80,0.05)(0.81,-0.12)(0.82,0.10)(0.83,-0.05)(0.84,0.18)(0.85,-0.15)(0.86,0.02)(0.87,0.12)(0.88,-0.20)(0.89,0.06)(0.90,-0.08)(0.91,0.15)(0.92,-0.18)(0.93,0.00)(0.94,0.22)(0.95,-0.10)(0.96,0.08)(0.97,0.26)(0.98,-0.15)(0.99,0.04)(1.00,-0.06)(1.01,0.17)(1.02,-0.22)(1.03,0.09)(1.04,-0.02)(1.05,0.20)(1.06,-0.14)(1.07,0.05)(1.08,0.30)(1.09,-0.08)(1.10,0.12)(1.11,-0.19)(1.12,0.02)(1.13,0.22)(1.14,-0.10)(1.15,0.08)(1.16,-0.26)(1.17,0.16)(1.18,-0.03)(1.19,0.28)(1.20,-0.15)(1.21,0.06)(1.22,-0.08)(1.23,0.19)(1.24,0.38)(1.25,-0.20)(1.26,0.03)(1.27,0.14)(1.28,-0.11)(1.29,0.24)(1.30,0.00)(1.31,-0.18)(1.32,0.10)(1.33,-0.05)(1.34,0.21)(1.35,-0.24)(1.36,0.07)(1.37,-0.09)(1.38,0.16)(1.39,0.30)(1.40,-0.14)(1.41,0.04)(1.42,-0.30)(1.43,0.12)(1.44,-0.02)(1.45,0.25)(1.46,-0.17)(1.47,0.08)(1.48,-0.07)(1.49,0.18)(1.50,-0.22)(1.51,0.02)(1.52,0.27)(1.53,-0.10)(1.54,0.10)(1.55,-0.04)(1.56,0.20)(1.57,-0.18)(1.58,0.05)(1.59,0.33)(1.60,-0.12)(1.61,0.14)(1.62,-0.25)(1.63,0.00)(1.64,0.22)(1.65,-0.08)(1.66,0.09)(1.67,-0.20)(1.68,0.17)(1.69,0.31)(1.70,-0.03)(1.71,-0.15)(1.72,0.12)(1.73,0.02)(1.74,-0.28)(1.75,0.24)(1.76,-0.09)(1.77,0.07)(1.78,0.36)(1.79,-0.18)(1.80,0.15)(1.81,-0.04)(1.82,0.28)(1.83,-0.22)(1.84,0.06)(1.85,0.42)(1.86,-0.12)(1.87,0.18)(1.88,-0.30)(1.89,0.56)(1.89,0.03)(1.90,0.25)(1.91,-0.20)(1.92,-0.67)(1.92,0.10)(1.93,0.38)(1.94,0.58)(1.94,-0.08)(1.95,0.20)(1.96,-0.34)(1.97,0.30)(1.97,0.00)(1.98,0.45)(1.99,-0.15)(2.00,0.12)(2.00,0.35)(2.01,-0.25)(2.02,0.05)(2.02,0.42)(2.03,-0.40)(2.04,0.22)(2.04,-0.10)(2.05,0.30)(2.06,-0.30)(2.06,0.08)(2.07,0.40)(2.07,-0.18)(2.08,0.18)(2.08,-0.05)(2.09,0.33)(2.09,-0.35)(2.10,0.10)(2.10,-0.71)(2.10,0.25)(2.11,-0.12)(0.805,-0.02)(0.825,0.20)(0.845,0.00)(0.865,-0.22)(0.885,0.18)(0.905,0.02)(0.925,0.10)(0.945,-0.04)(0.965,-0.18)(0.985,0.14)(1.005,0.05)(1.025,-0.10)(1.045,0.12)(1.065,0.25)(1.085,-0.02)(1.105,-0.28)(1.125,0.14)(1.145,0.02)(1.165,0.24)(1.185,-0.12)(1.205,0.18)(1.225,0.00)(1.245,-0.14)(1.265,0.26)(1.285,0.06)(1.305,0.15)(1.325,-0.22)(1.345,-0.02)(1.365,0.28)(1.385,0.00)(1.405,0.20)(1.425,-0.12)(1.445,0.17)(1.465,0.02)(1.485,-0.27)(1.505,0.13)(1.525,0.00)(1.545,-0.14)(1.565,0.06)(1.585,-0.06)(1.605,0.25)(1.625,0.09)(1.645,-0.16)(1.665,0.28)(1.685,-0.06)(1.705,0.20)(1.725,-0.20)(1.745,0.10)(1.765,0.30)(1.785,-0.02)(1.805,-0.24)(1.825,0.08)(1.845,0.24)(1.865,0.00)(1.885,0.14)(1.905,-0.10)(1.925,0.28)(1.945,0.06)(1.965,-0.20)(1.985,0.22)(2.005,0.02)(2.025,-0.15)(2.045,0.14)(2.065,-0.08)(2.085,0.28)(2.095,0.00)(2.105,0.40)(2.105,-0.22)
(0.815,0.12)(0.835,-0.10)(0.855,0.08)(0.875,-0.05)(0.895,-0.15)(0.915,0.05)(0.935,-0.12)(0.955,0.15)(0.975,-0.03)(0.995,-0.20)(1.015,0.00)(1.035,0.16)(1.055,-0.06)(1.075,0.10)(1.095,-0.16)(1.115,0.06)(1.135,-0.05)(1.155,0.18)(1.175,-0.14)(1.195,0.08)(1.215,-0.22)(1.235,0.10)(1.255,0.00)(1.275,-0.18)(1.295,0.12)(1.315,-0.08)(1.335,0.08)(1.355,-0.14)(1.375,0.12)(1.395,-0.22)(1.415,0.10)(1.435,-0.06)(1.455,0.06)(1.475,-0.12)(1.495,0.22)(1.515,-0.16)(1.535,0.18)(1.555,-0.08)(1.575,0.12)(1.595,-0.20)(1.615,0.02)(1.635,0.16)(1.655,-0.12)(1.675,0.04)(1.695,-0.16)(1.715,0.08)(1.735,-0.06)(1.755,0.16)(1.775,-0.12)(1.795,0.04)(1.815,0.20)(1.835,-0.10)(1.855,0.12)(1.875,-0.18)(1.895,0.08)(1.915,0.16)(1.935,-0.14)(1.955,0.10)(1.975,-0.06)(1.995,0.26)(2.015,-0.08)(2.035,0.20)(2.055,-0.18)(2.075,0.06)(2.095,0.20)(2.1,-0.10)(1.99,0.50)(2.05,0.50)(2.08,0.45)};
\addplot[zl] coordinates {(0.45,0) (2.25,0)};
\end{axis}
%================ ROW 3 ================
\begin{axis}[rpanel, at={(304.5pt,-192pt)}, height=53.5pt,
  xmin=-1.905, xmax=0.516, ymin=-0.89, ymax=0.89,
  xtick={-1,0}, xticklabels={−1,0}, ytick={-0.5,0,0.5}, yticklabels={−0.5,0.0,0.5},
  xlabel={[M/H]\textsubscript{Gaia}}, xlabel style={yshift=-26pt},
  ylabel={Δ[M/H]}]
\addplot[bf=1.45pt] coordinates {(-1.664,0.70)(-1.653,0.28)(-1.50,0.38)(-1.40,0.21)(-1.37,0.22)(-1.341,0.31)(-1.262,0.51)(-1.24,-0.05)(-1.235,0.25)(-1.22,0.22)(-1.21,0.30)(-1.20,0.14)(-1.13,0.33)(-1.087,0.39)(-1.15,0.12)(-1.125,0.10)(-1.09,0.12)(-1.03,-0.21)(-0.984,0.13)(-0.944,0.18)(-0.93,0.17)(-0.833,0.13)(-0.833,-0.06)(-0.76,0.01)(-0.68,-0.15)(-0.68,0.00)(-0.653,0.21)(-0.65,-0.07)(-0.62,0.18)(-0.60,0.06)(-0.56,0.21)(-0.53,0.13)(-0.485,0.15)(-0.45,0.16)(-0.47,0.05)(-0.45,-0.05)(-0.44,0.10)(-0.42,-0.10)(-0.41,0.02)(-0.40,0.15)(-0.39,-0.18)(-0.38,-0.03)(-0.37,0.08)(-0.36,-0.12)(-0.35,0.12)(-0.34,-0.22)(-0.33,0.00)(-0.32,-0.34)(-0.32,0.06)(-0.31,-0.08)(-0.30,0.14)(-0.29,-0.16)(-0.28,0.03)(-0.27,-0.05)(-0.27,0.18)(-0.26,-0.20)(-0.25,0.08)(-0.24,-0.10)(-0.24,0.12)(-0.23,-0.02)(-0.22,-0.26)(-0.22,0.05)(-0.21,0.15)(-0.20,-0.12)(-0.20,0.00)(-0.19,0.09)(-0.18,-0.06)(-0.18,0.18)(-0.17,-0.18)(-0.16,0.03)(-0.16,0.12)(-0.15,-0.10)(-0.14,0.06)(-0.14,-0.25)(-0.13,0.15)(-0.12,-0.04)(-0.12,0.09)(-0.11,-0.14)(-0.10,0.02)(-0.10,0.17)(-0.09,-0.08)(-0.08,0.08)(-0.08,-0.20)(-0.07,0.12)(-0.06,-0.02)(-0.06,0.04)(-0.05,-0.12)(-0.04,0.10)(-0.04,-0.05)(-0.03,0.16)(-0.02,0.00)(-0.02,-0.16)(-0.01,0.07)(0.00,-0.08)(0.00,0.12)(0.01,0.02)(0.02,-0.10)(0.03,0.08)(0.04,-0.03)(0.05,0.05)(0.06,-0.14)(0.07,0.10)(0.08,-0.04)(0.09,0.02)(0.10,-0.09)(0.11,0.06)(0.12,-0.02)(0.13,-0.16)(0.14,0.03)(0.15,-0.06)(0.17,-0.02)(0.19,-0.10)(0.21,-0.03)(0.267,-0.09)};
\addplot[zl] coordinates {(-1.905,0) (0.516,0)};
\end{axis}
\begin{axis}[rpanel, at={(465.5pt,-192pt)}, height=53.5pt,
  xmin=-1.905, xmax=0.516, ymin=-0.89, ymax=0.89,
  xtick={-1,0}, xticklabels={−1,0}, ytick={-0.5,0,0.5}, yticklabels={},
  xlabel={[M/H]\textsubscript{Gaia}}, xlabel style={yshift=-26pt}]
\addplot[rf=1.45pt] coordinates {(-0.91,0.28)(-0.91,0.23)(-0.895,0.30)(-0.895,0.25)(-0.895,0.21)(-0.875,0.27)(-0.875,0.32)(-0.875,0.22)(-0.855,0.24)(-0.855,0.29)(-0.855,0.19)(-0.855,0.33)(-0.835,0.26)(-0.835,0.21)(-0.835,0.31)(-0.835,0.17)(-0.815,0.28)(-0.815,0.23)(-0.815,0.18)(-0.815,0.34)(-0.795,0.25)(-0.795,0.31)(-0.795,0.19)(-0.795,0.14)(-0.775,0.29)(-0.775,0.22)(-0.775,0.16)(-0.775,0.35)(-0.775,0.11)(-0.755,0.26)(-0.755,0.20)(-0.755,0.32)(-0.755,0.13)(-0.735,0.23)(-0.735,0.30)(-0.735,0.17)(-0.735,0.09)(-0.735,0.36)(-0.715,0.27)(-0.715,0.19)(-0.715,0.33)(-0.715,0.12)(-0.715,0.06)(-0.70,0.49)(-0.695,0.24)(-0.695,0.31)(-0.695,0.16)(-0.695,0.08)(-0.695,0.38)(-0.675,0.21)(-0.675,0.28)(-0.675,0.13)(-0.675,0.35)(-0.675,0.04)(-0.655,0.25)(-0.655,0.18)(-0.655,0.32)(-0.655,0.10)(-0.655,0.02)(-0.635,0.22)(-0.635,0.29)(-0.635,0.14)(-0.635,0.07)(-0.635,0.36)(-0.615,0.19)(-0.615,0.26)(-0.615,0.11)(-0.615,0.33)(-0.615,0.03)(-0.615,-0.02)(-0.595,0.23)(-0.595,0.16)(-0.595,0.30)(-0.595,0.08)(-0.595,0.00)(-0.575,0.18)(-0.575,0.25)(-0.575,0.12)(-0.575,0.05)(-0.575,0.32)(-0.575,-0.04)(-0.555,0.21)(-0.555,0.14)(-0.555,0.28)(-0.555,0.07)(-0.555,0.39)(-0.555,-0.01)(-0.535,0.17)(-0.535,0.24)(-0.535,0.10)(-0.535,0.03)(-0.535,0.30)(-0.535,-0.06)(-0.515,0.20)(-0.515,0.13)(-0.515,0.27)(-0.515,0.06)(-0.515,-0.02)(-0.495,0.15)(-0.495,0.22)(-0.495,0.08)(-0.495,0.01)(-0.495,0.28)(-0.495,-0.08)(-0.475,0.18)(-0.475,0.11)(-0.475,0.25)(-0.475,0.04)(-0.475,-0.04)(-0.475,-0.12)(-0.455,0.14)(-0.455,0.21)(-0.455,0.07)(-0.455,0.00)(-0.455,0.26)(-0.455,-0.09)(-0.435,0.16)(-0.435,0.09)(-0.435,0.23)(-0.435,0.02)(-0.435,-0.06)(-0.435,-0.14)(-0.415,0.12)(-0.415,0.19)(-0.415,0.05)(-0.415,-0.02)(-0.415,0.24)(-0.415,-0.10)(-0.395,0.15)(-0.395,0.08)(-0.395,0.21)(-0.395,0.01)(-0.395,-0.07)(-0.395,-0.16)(-0.375,0.11)(-0.375,0.18)(-0.375,0.04)(-0.375,-0.03)(-0.375,0.22)(-0.375,-0.12)(-0.355,0.13)(-0.355,0.06)(-0.355,0.19)(-0.355,-0.01)(-0.355,-0.09)(-0.355,-0.18)(-0.335,0.09)(-0.335,0.16)(-0.335,0.02)(-0.335,-0.05)(-0.335,0.20)(-0.335,-0.14)(-0.315,0.12)(-0.315,0.05)(-0.315,0.17)(-0.315,-0.02)(-0.315,-0.10)(-0.315,-0.20)(-0.295,0.08)(-0.295,0.14)(-0.295,0.01)(-0.295,-0.06)(-0.295,0.18)(-0.295,-0.15)(-0.275,0.10)(-0.275,0.03)(-0.275,0.15)(-0.275,-0.04)(-0.275,-0.12)(-0.275,-0.22)(-0.255,0.06)(-0.255,0.12)(-0.255,-0.01)(-0.255,-0.08)(-0.255,0.16)(-0.255,-0.17)(-0.235,0.08)(-0.235,0.01)(-0.235,0.13)(-0.235,-0.05)(-0.235,-0.13)(-0.235,-0.21)(-0.22,-0.33)(-0.215,0.04)(-0.215,0.10)(-0.215,-0.02)(-0.215,-0.09)(-0.215,0.14)(-0.215,-0.18)(-0.20,-0.24)(-0.195,0.06)(-0.195,-0.01)(-0.195,0.11)(-0.195,-0.06)(-0.195,-0.14)(-0.195,-0.21)(-0.175,0.02)(-0.175,0.08)(-0.175,-0.04)(-0.175,-0.10)(-0.175,0.13)(-0.175,-0.17)(-0.155,0.05)(-0.155,-0.02)(-0.155,0.10)(-0.155,-0.07)(-0.155,-0.14)(-0.155,-0.22)(-0.135,0.01)(-0.135,0.07)(-0.135,-0.05)(-0.135,-0.11)(-0.135,0.12)(-0.135,-0.18)(-0.115,0.04)(-0.115,-0.03)(-0.115,0.09)(-0.115,-0.08)(-0.115,-0.15)(-0.115,-0.23)(-0.095,0.00)(-0.095,0.06)(-0.095,-0.06)(-0.095,-0.12)(-0.095,0.11)(-0.095,-0.19)(-0.075,0.03)(-0.075,-0.04)(-0.075,0.08)(-0.075,-0.09)(-0.075,-0.16)(-0.075,0.14)(-0.055,-0.01)(-0.055,0.05)(-0.055,-0.07)(-0.055,-0.13)(-0.055,0.10)(-0.055,-0.21)(-0.035,0.02)(-0.035,-0.05)(-0.035,0.07)(-0.035,-0.10)(-0.035,-0.17)(-0.035,0.12)(-0.015,-0.02)(-0.015,0.04)(-0.015,-0.08)(-0.015,-0.14)(-0.015,0.09)(-0.015,-0.20)(0.005,0.01)(0.005,-0.05)(0.005,0.06)(0.005,-0.11)(0.005,-0.17)(0.005,0.11)(0.025,-0.03)(0.025,0.03)(0.025,-0.08)(0.025,0.08)(0.025,-0.14)(0.045,0.00)(0.045,-0.06)(0.045,0.05)(0.045,-0.12)(0.045,0.10)(0.065,-0.03)(0.065,0.02)(0.065,-0.09)(0.065,0.07)(0.065,-0.14)(0.085,0.01)(0.085,-0.05)(0.085,0.05)(0.085,-0.11)(0.085,0.11)(0.105,-0.02)(0.105,0.03)(0.105,-0.08)(0.105,0.08)(0.125,0.00)(0.125,-0.06)(0.125,0.05)(0.125,-0.11)(0.125,0.12)(0.125,-0.27)(0.145,-0.03)(0.145,0.02)(0.145,-0.08)(0.145,0.07)(0.165,0.00)(0.165,0.05)(0.165,-0.05)(0.165,0.10)(0.185,-0.02)(0.185,0.03)(0.185,-0.07)(0.185,0.08)(0.205,0.01)(0.205,0.06)(0.205,-0.04)(0.225,0.03)(0.225,0.09)(0.225,-0.01)(0.24,0.05)(0.24,0.12)};
\addplot[zl] coordinates {(-1.905,0) (0.516,0)};
\end{axis}
%================ ROW 4 ================
\begin{axis}[rpanel, at={(304.5pt,-279.5pt)}, height=54pt,
  xmin=-0.5, xmax=0.4, ymin=-0.6, ymax=0.6,
  xtick={-0.5,0}, xticklabels={−0.5,0.0}, ytick={-0.5,0,0.5}, yticklabels={−0.5,0.0,0.5},
  xlabel={[Ca/Fe]\textsubscript{\textit{Gaia}}}, xlabel style={yshift=-30.5pt},
  ylabel={Δ[Ca/Fe]}]
\addplot[ko] coordinates {(-0.43,0.57)(-0.40,0.45)(-0.397,0.41)(-0.374,0.42)(-0.344,0.17)(-0.34,0.19)(-0.33,0.26)(-0.32,0.24)(-0.315,0.20)(-0.31,0.28)(-0.30,0.15)(-0.29,-0.09)(-0.285,0.34)(-0.27,0.43)(-0.265,0.48)(-0.255,0.48)(-0.25,0.17)(-0.24,0.34)(-0.23,0.30)(-0.225,0.13)(-0.219,-0.19)(-0.21,0.24)(-0.20,0.13)(-0.19,0.02)(-0.18,0.28)(-0.17,0.32)(-0.16,0.21)(-0.15,-0.05)(-0.142,0.40)(-0.137,0.35)(-0.132,0.41)(-0.12,-0.22)(-0.11,0.39)(-0.10,0.43)(-0.093,-0.14)(-0.085,0.32)(-0.073,0.36)(-0.063,0.06)(-0.053,0.28)(-0.045,0.30)(-0.039,-0.40)(-0.034,0.24)(-0.024,0.10)(-0.014,0.36)(-0.004,-0.05)(0.006,0.19)(0.016,-0.03)(0.03,0.21)(0.04,-0.07)(0.045,0.23)(0.055,0.17)(0.065,-0.05)(0.075,0.30)(0.09,0.17)(0.10,0.21)(0.11,0.24)(0.13,0.15)(0.14,0.13)(0.155,0.17)(0.17,0.12)(0.19,0.04)(0.205,0.15)(0.22,0.10)(0.235,0.10)(0.247,0.10)(0.262,0.10)(0.274,0.10)(0.29,-0.03)(0.32,0.10)(0.30,-0.05)(0.316,-0.09)(0.33,-0.11)(0.35,-0.04)(0.37,-0.06)(0.39,-0.02)(0.26,0.00)(0.28,0.04)(0.18,0.06)(0.12,0.08)(0.20,0.13)(0.23,0.05)(-0.36,0.10)(-0.38,0.30)(-0.35,0.35)(-0.41,0.40)(-0.31,0.32)(-0.28,0.08)(-0.27,0.22)(-0.26,0.05)(-0.22,0.05)(-0.21,-0.10)(-0.20,0.20)(-0.19,-0.15)(-0.18,0.10)(-0.17,-0.05)(-0.16,0.25)(-0.15,0.12)(-0.14,-0.18)(-0.13,0.02)(-0.12,0.18)(-0.11,-0.10)(-0.10,0.08)(-0.09,0.26)(-0.08,-0.05)(-0.07,0.14)(-0.06,-0.16)(-0.05,0.04)(-0.04,0.20)(-0.03,-0.08)(-0.02,0.12)(-0.21,0.30)(-0.17,-0.22)(-0.13,0.30)(-0.09,-0.20)(-0.05,0.28)(-0.11,0.24)(-0.19,0.28)(-0.15,0.35)(-0.07,0.32)(-0.03,0.33)(0.00,0.28)(0.02,0.08)(0.05,0.10)(0.08,0.12)(-0.24,0.00)(-0.25,-0.08)(-0.23,0.22)(-0.18,-0.02)(-0.10,-0.16)(-0.06,0.00)(-0.01,-0.12)(0.01,0.00)(0.035,0.02)(-0.135,-0.08)(-0.155,-0.12)};
\addplot[bf=1.45pt] coordinates {(-0.369,0.28)(-0.34,0.37)(-0.31,0.53)(-0.305,0.50)(-0.33,0.26)(-0.285,0.34)(-0.27,0.26)(-0.25,0.21)(-0.23,0.37)(-0.22,0.22)(-0.36,0.37)(-0.30,0.10)(-0.26,0.38)(-0.24,0.14)(-0.215,0.08)(-0.21,-0.02)(-0.205,0.15)(-0.20,-0.10)(-0.195,0.03)(-0.19,0.12)(-0.185,-0.05)(-0.18,0.18)(-0.175,0.07)(-0.17,-0.13)(-0.165,0.00)(-0.16,0.10)(-0.155,0.20)(-0.15,-0.06)(-0.145,0.05)(-0.14,0.14)(-0.135,-0.16)(-0.13,0.02)(-0.125,0.09)(-0.12,0.19)(-0.115,-0.03)(-0.11,0.06)(-0.105,0.13)(-0.10,-0.10)(-0.095,0.01)(-0.09,0.17)(-0.085,0.08)(-0.08,-0.06)(-0.075,0.04)(-0.07,0.12)(-0.065,-0.14)(-0.06,0.02)(-0.055,0.10)(-0.05,0.19)(-0.045,-0.02)(-0.04,0.06)(-0.035,0.14)(-0.03,-0.08)(-0.025,0.03)(-0.02,0.11)(-0.015,0.00)(-0.01,0.07)(-0.005,0.16)(0.00,0.04)(-0.13,-0.28)(-0.078,-0.37)(-0.16,-0.18)(-0.12,-0.12)(-0.09,-0.17)(-0.19,-0.12)(-0.17,0.24)(-0.14,0.26)(-0.11,0.25)(-0.08,0.22)(-0.06,0.26)(-0.21,0.19)(-0.18,0.03)(-0.15,0.11)(-0.12,0.03)(-0.095,0.10)(-0.065,0.08)(-0.04,-0.12)(-0.025,0.20)(-0.20,0.06)(-0.145,-0.02)(-0.10,0.20)(0.035,0.26)(0.05,0.13)(0.07,0.18)(0.09,0.08)(0.11,0.22)(0.124,0.23)(0.14,0.12)(0.16,0.18)(0.183,0.11)(0.20,0.06)(0.22,0.08)(0.24,0.08)(0.26,0.02)(0.28,0.05)(0.30,-0.09)(0.32,-0.04)(0.346,0.00)(0.37,-0.06)(0.40,-0.06)(0.015,0.10)(0.02,-0.04)(0.06,0.02)(0.03,0.30)};
\addplot[zl] coordinates {(-0.5,0) (0.4,0)};
\end{axis}
\begin{axis}[rpanel, at={(465.5pt,-279.5pt)}, height=54pt,
  xmin=-0.5, xmax=0.4, ymin=-0.6, ymax=0.6,
  xtick={-0.5,0}, xticklabels={−0.5,0.0}, ytick={-0.5,0,0.5}, yticklabels={},
  xlabel={[Ca/Fe]\textsubscript{\textit{Gaia}}}, xlabel style={yshift=-30.5pt}]
\addplot[ko] coordinates {(-0.221,0.17)(-0.196,0.27)(-0.175,0.36)(-0.16,0.35)(-0.14,0.32)(-0.12,0.28)(-0.10,0.34)(-0.09,0.30)(-0.07,0.28)(-0.04,0.41)(-0.025,0.32)(-0.01,0.36)(0.01,0.28)(0.027,-0.29)(0.057,-0.29)(0.09,-0.26)(0.10,0.20)(0.116,0.17)(0.136,-0.18)(0.155,-0.24)(0.175,-0.22)(0.195,-0.20)(0.215,0.13)(0.24,0.10)(0.264,-0.18)(0.28,-0.10)(0.29,-0.16)(0.31,-0.09)(0.33,-0.07)(0.38,-0.19)(-0.15,-0.12)(-0.13,-0.18)(-0.08,-0.18)(-0.04,-0.27)(-0.06,-0.22)(-0.21,0.20)(-0.19,0.22)(-0.18,0.28)(-0.17,0.15)(-0.155,0.25)(-0.13,0.22)(-0.11,0.36)(-0.06,0.31)(-0.03,0.26)(0.03,0.30)(0.05,0.22)(0.07,0.25)(0.12,0.19)(0.14,0.14)(0.17,0.12)(0.19,0.09)(0.23,0.07)(0.25,0.04)(0.27,0.05)(0.30,0.02)(0.32,0.00)(0.34,-0.03)(0.36,-0.10)(0.35,-0.05)(0.22,-0.15)(0.24,-0.12)(0.26,-0.08)(0.20,-0.10)(0.18,-0.16)(0.16,-0.20)(0.12,-0.22)(0.08,-0.20)(0.04,-0.24)(0.00,-0.22)(-0.02,-0.20)(-0.10,-0.14)(-0.12,-0.10)(-0.145,-0.05)(-0.165,0.00)(-0.18,0.05)(-0.19,0.10)(-0.20,0.12)(-0.14,0.10)(-0.12,-0.02)(-0.10,0.16)(-0.08,0.04)(-0.06,-0.10)(-0.04,0.12)(-0.02,0.00)(0.00,0.18)(0.02,-0.08)(0.04,0.08)(0.06,-0.14)(0.08,0.14)(0.10,-0.04)(0.12,0.06)(0.14,-0.10)(0.16,0.04)(0.18,-0.04)(0.20,0.06)(0.22,-0.02)(0.24,-0.05)(0.26,0.00)(-0.11,0.22)(-0.07,0.20)(-0.03,0.22)(0.01,0.24)(0.05,-0.16)(0.09,-0.12)(0.13,0.12)(0.17,-0.08)(0.21,0.02)(0.25,0.08)(0.11,0.02)(0.03,0.14)(-0.05,0.08)(-0.09,-0.06)(0.07,0.00)(0.15,-0.14)(-0.01,-0.14)};
\addplot[rf=1.45pt] coordinates {(-0.158,0.03)(-0.158,0.11)(-0.158,-0.05)(-0.148,0.07)(-0.148,-0.01)(-0.148,0.15)(-0.148,-0.09)(-0.137,0.00)(-0.137,0.12)(-0.137,-0.07)(-0.137,0.19)(-0.127,0.05)(-0.127,-0.03)(-0.127,0.16)(-0.127,-0.12)(-0.127,0.22)(-0.116,0.02)(-0.116,0.09)(-0.116,-0.09)(-0.116,0.19)(-0.116,-0.15)(-0.104,0.06)(-0.104,-0.05)(-0.104,0.13)(-0.104,-0.13)(-0.104,0.23)(-0.093,0.00)(-0.093,0.11)(-0.093,-0.07)(-0.093,0.18)(-0.093,-0.18)(-0.081,0.04)(-0.081,-0.02)(-0.081,0.15)(-0.081,-0.11)(-0.081,0.25)(-0.081,-0.20)(-0.070,0.08)(-0.070,-0.06)(-0.070,0.19)(-0.070,-0.15)(-0.070,0.01)(-0.070,0.27)(-0.058,0.03)(-0.058,0.12)(-0.058,-0.09)(-0.058,0.22)(-0.058,-0.19)(-0.058,-0.02)(-0.047,0.07)(-0.047,-0.04)(-0.047,0.16)(-0.047,-0.13)(-0.047,0.25)(-0.047,-0.21)(-0.035,0.00)(-0.035,0.10)(-0.035,-0.08)(-0.035,0.19)(-0.035,-0.17)(-0.035,0.28)(-0.024,0.05)(-0.024,-0.02)(-0.024,0.14)(-0.024,-0.11)(-0.024,0.22)(-0.024,-0.20)(-0.012,0.02)(-0.012,0.09)(-0.012,-0.06)(-0.012,0.17)(-0.012,-0.15)(-0.012,0.30)(-0.001,0.06)(-0.001,-0.03)(-0.001,0.12)(-0.001,-0.12)(-0.001,0.21)(-0.001,-0.22)(0.006,0.36)(0.011,0.00)(0.011,0.08)(0.011,-0.08)(0.011,0.16)(0.011,-0.17)(0.011,0.25)(0.023,0.04)(0.023,-0.05)(0.023,0.13)(0.023,-0.13)(0.023,0.21)(0.023,-0.21)(0.034,0.01)(0.034,0.10)(0.034,-0.10)(0.034,0.18)(0.034,-0.16)(0.046,0.06)(0.046,-0.03)(0.046,0.14)(0.046,-0.12)(0.046,0.22)(0.057,0.02)(0.057,0.09)(0.057,-0.07)(0.057,0.16)(0.057,-0.18)(0.069,-0.01)(0.069,0.05)(0.069,-0.10)(0.069,0.13)(0.069,0.20)(0.080,0.03)(0.080,-0.05)(0.080,0.10)(0.080,-0.14)(0.080,0.17)(0.092,0.00)(0.092,0.07)(0.092,-0.08)(0.092,0.14)(0.092,-0.15)(0.104,0.04)(0.104,-0.03)(0.104,0.11)(0.104,-0.11)(0.104,0.18)(0.115,0.01)(0.115,0.08)(0.115,-0.06)(0.115,0.14)(0.115,-0.13)(0.127,-0.02)(0.127,0.05)(0.127,-0.09)(0.127,0.11)(0.134,-0.39)(0.138,0.02)(0.138,-0.05)(0.138,0.08)(0.138,-0.12)(0.150,0.00)(0.150,0.06)(0.150,-0.07)(0.150,0.11)(0.161,0.03)(0.161,-0.03)(0.161,0.09)(0.161,-0.09)(0.173,-0.01)(0.173,0.05)(0.173,-0.06)(0.173,0.10)(0.184,0.02)(0.184,-0.03)(0.184,0.07)(0.196,0.00)(0.196,0.05)(0.196,-0.05)(0.207,0.02)(0.207,-0.02)(0.207,0.06)(0.219,0.00)(0.219,0.04)(0.219,-0.04)(0.230,0.02)(0.230,-0.02)(0.242,0.01)(0.242,0.05)(0.254,-0.01)(0.254,0.02)(0.266,0.00)(0.278,0.01)(0.357,-0.25)};
\addplot[zl] coordinates {(-0.5,0) (0.4,0)};
\end{axis}
\end{tikzpicture}
\end{document}
